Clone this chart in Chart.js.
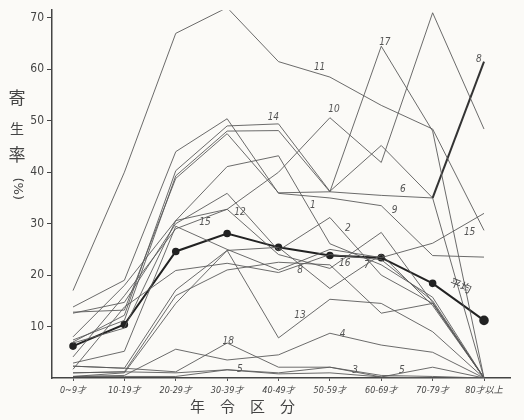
<!DOCTYPE html>
<html>
<head>
<meta charset="utf-8">
<script src="https://cdn.jsdelivr.net/npm/chart.js@4"></script>
<style>
  html, body { margin: 0; padding: 0; background: #fbfaf7; }
  canvas { display: block; }
</style>
</head>
<body>
<canvas id="c" width="524" height="420"></canvas>
<script>
// ---- data ----
const categories = ['0~9才', '10-19才', '20-29才', '30-39才', '40-49才', '50-59才', '60-69才', '70-79才', '80才以上'];
const yTicks = [10, 20, 30, 40, 50, 60, 70];

const s11 = [17, 40, 67, 72, 61.5, 58.5, 53, 48.4, 28.7];
const s10 = [4.1, 16, 29, 32.8, 40, 50.6, 41.9, 71, 48.4];
const s17 = [12.8, 13.2, 38.8, 47.5, 36, 36.2, 64.5, 48, 0];
const s14 = [7, 12.2, 40.3, 49, 49.4, 36.3, 45.2, 35, 61.5];
const s6  = [7.4, 11.2, 39.3, 48, 48.1, 36.2, 35.5, 35, 0];
const s9  = [13.8, 19, 44, 50.4, 35.9, 35, 33.5, 23.8, 23.5];
const s1  = [8, 18, 30.6, 41.1, 43.2, 26.1, 22, 15.7, 0];
const s2  = [12.6, 14.7, 30, 35.9, 24.8, 31.2, 20, 14.5, 0];
const s12 = [6.8, 9.7, 30.6, 32.8, 24, 21.3, 28.3, 14.7, 0];
const s15 = [2.9, 5.2, 29.5, 25, 21, 25, 23.4, 26.2, 32];
const s8  = [1.7, 13.8, 20.9, 22.3, 20.5, 24, 23, 15, 0];
const s16 = [2.3, 1.9, 17.1, 24.8, 25.4, 17.4, 24, 14.1, 0];
const s7  = [1, 1.2, 16, 21, 22.5, 22, 12.6, 14.5, 0];
const s13 = [0.3, 1, 14.5, 24.8, 7.8, 15.3, 14.5, 9, 0];
const s4  = [0.3, 0.5, 5.6, 3.5, 4.5, 8.7, 6.4, 5, 0];
const s18 = [2.3, 1.9, 1.2, 6.8, 2.1, 2.1, 0.5, 0.3, 0];
const s3  = [1, 1.2, 1.0, 1.6, 1.0, 2.1, 0.2, 0, 0];
const s5  = [0.3, 0.3, 0.3, 1.6, 0.8, 1, 0.2, 2.1, 0];
const average = [6.2, 10.4, 24.6, 28.1, 25.4, 23.8, 23.4, 18.4, 11.2];

const seriesNames = ['11','10','17','14','6','9','1','2','12','15','8','16','7','13','4','18','3','5'];
const seriesValues = [s11, s10, s17, s14, s6, s9, s1, s2, s12, s15, s8, s16, s7, s13, s4, s18, s3, s5];

// line number labels: [text, category position, value]
const lineLabels = [
  ['11', 4.8, 60.3], ['17', 6.07, 65.3], ['8', 7.9, 62], ['14', 3.9, 50.6],
  ['10', 5.08, 52.2], ['6', 6.42, 36.6], ['9', 6.26, 32.6], ['12', 3.25, 32.2],
  ['1', 4.67, 33.5], ['2', 5.35, 29], ['15', 2.57, 30.3], ['15', 7.72, 28.3],
  ['8', 4.42, 21], ['16', 5.29, 22.3], ['7', 5.72, 21.9], ['13', 4.42, 12.2],
  ['4', 5.25, 8.5], ['18', 3.02, 7.2], ['5', 3.25, 1.6], ['3', 5.49, 1.5], ['5', 6.4, 1.4]
];
const averageLabel = ['平均', 7.55, 18.0];
const yTitleChars = ['寄', '生', '率', '(%)'];
const yTitlePos = [54.5, 48.5, 43.4, 36.8];
const xTitle = '年　令　区　分';

// ---- build datasets ----
const toPts = arr => arr.map((v, i) => ({ x: i, y: v }));
const datasets = seriesValues.map((vals, k) => ({
  label: seriesNames[k],
  data: toPts(vals),
  borderColor: '#5a5a5a',
  borderWidth: 0.9,
  pointRadius: 0,
  tension: 0,
  segment: seriesNames[k] === '14'
    ? { borderWidth: ctx => (ctx.p0DataIndex === 7 ? 2 : 0.9), borderColor: ctx => (ctx.p0DataIndex === 7 ? '#333' : '#5a5a5a') }
    : undefined
}));
datasets.push({
  label: '平均',
  data: toPts(average),
  borderColor: '#222',
  borderWidth: 2,
  pointRadius: average.map((v, i) => (i === average.length - 1 ? 3.8 : 2.8)),
  pointBackgroundColor: '#222',
  pointBorderColor: '#222',
  tension: 0
});

const textPlugin = {
  id: 'texts',
  afterDraw(chart) {
    const ctx = chart.ctx;
    const xs = chart.scales.x, ys = chart.scales.y;
    ctx.save();
    // line labels
    ctx.fillStyle = '#555';
    ctx.font = 'italic 10px "DejaVu Sans Condensed", "DejaVu Sans", sans-serif';
    ctx.textAlign = 'center';
    ctx.textBaseline = 'middle';
    lineLabels.forEach(([t, x, y]) => {
      ctx.fillText(t, xs.getPixelForValue(x), ys.getPixelForValue(y));
    });
    // average label
    ctx.save();
    ctx.translate(xs.getPixelForValue(averageLabel[1]), ys.getPixelForValue(averageLabel[2]));
    ctx.rotate(0.4);
    ctx.font = '11px "Noto Sans CJK JP", sans-serif';
    ctx.fillStyle = '#444';
    ctx.fillText(averageLabel[0], 0, 0);
    ctx.restore();
    // y title (vertical, upright characters)
    ctx.fillStyle = '#444';
    yTitleChars.forEach((ch, i) => {
      const py = ys.getPixelForValue(yTitlePos[i]);
      if (ch.length > 1) {
        ctx.save();
        ctx.translate(17, py);
        ctx.rotate(Math.PI / 2);
        ctx.font = '13px "DejaVu Sans", sans-serif';
        ctx.fillText(ch, 0, 0);
        ctx.restore();
      } else {
        ctx.font = (i === 1 ? '14px' : '17px') + ' "Noto Sans CJK JP", sans-serif';
        ctx.fillText(ch, 17, py);
      }
    });
    // x title
    ctx.font = '15px "Noto Sans CJK JP", sans-serif';
    ctx.fillStyle = '#444';
    ctx.fillText(xTitle, xs.getPixelForValue(3.3), 406);
    ctx.restore();
  }
};

new Chart(document.getElementById('c'), {
  type: 'line',
  data: { datasets },
  options: {
    responsive: false,
    animation: false,
    layout: { padding: { top: 9, right: 14, left: 0, bottom: 0 } },
    plugins: { legend: { display: false }, tooltip: { enabled: false } },
    scales: {
      x: {
        type: 'linear',
        min: -0.409,
        max: 8.506,
        afterBuildTicks: s => { s.ticks = categories.map((c, i) => ({ value: i })); },
        afterFit: s => { s.height = 42; },
        ticks: {
          autoSkip: false,
          maxRotation: 0,
          padding: 4,
          color: '#444',
          font: { size: 9, style: 'italic', family: '"DejaVu Sans Condensed", "Noto Sans CJK JP", sans-serif' },
          callback: v => categories[v] ?? ''
        },
        grid: { drawOnChartArea: false, tickLength: 3, color: '#555' },
        border: { color: '#444', width: 1.5 }
      },
      y: {
        min: 0,
        max: 71.5,
        afterBuildTicks: s => { s.ticks = yTicks.map(v => ({ value: v })); },
        afterFit: s => { s.width = 52; },
        ticks: {
          padding: 3,
          color: '#444',
          font: { size: 12, family: '"DejaVu Sans Condensed", "Liberation Sans Narrow", sans-serif' }
        },
        grid: { drawOnChartArea: false, tickLength: 5, color: '#444' },
        border: { color: '#444', width: 1.5 }
      }
    }
  },
  plugins: [textPlugin]
});
</script>
</body>
</html>
